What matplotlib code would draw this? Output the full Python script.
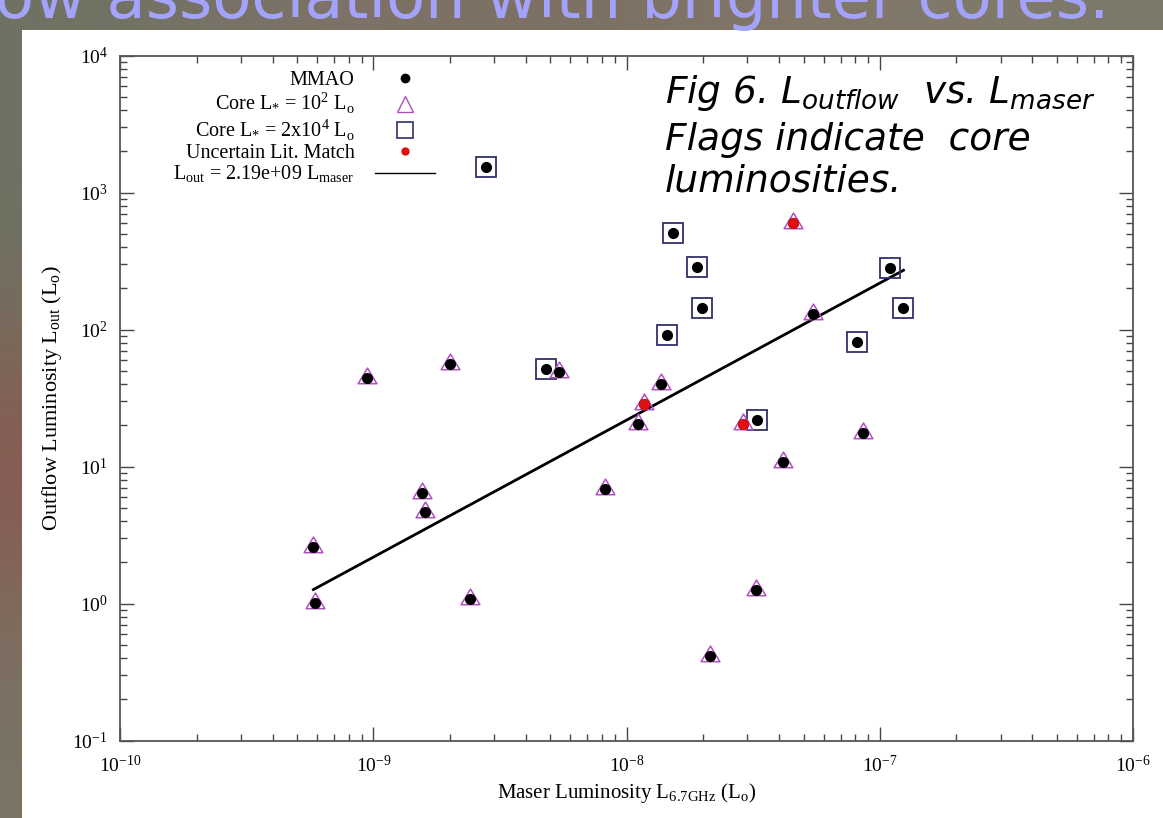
import numpy as np
import matplotlib
matplotlib.use("Agg")
import matplotlib.pyplot as plt
from matplotlib.lines import Line2D
from matplotlib.patches import Rectangle
from matplotlib.path import Path
from matplotlib.colors import to_rgb
from matplotlib.ticker import LogLocator, NullFormatter

plt.rcParams["font.family"] = ["Liberation Serif", "DejaVu Serif"]
plt.rcParams["mathtext.fontset"] = "custom"
plt.rcParams["mathtext.rm"] = "Liberation Serif"
plt.rcParams["mathtext.it"] = "DejaVu Sans:italic"
plt.rcParams["mathtext.bf"] = "Liberation Serif:bold"
plt.rcParams["axes.unicode_minus"] = False

# values
maser = [5.79e-10, 5.85e-10, 9.42e-10, 1.56e-9, 1.60e-9, 2.00e-9, 2.41e-9,
         2.79e-9, 4.81e-9, 5.40e-9, 8.24e-9, 1.11e-8, 1.17e-8, 1.37e-8,
         1.44e-8, 1.53e-8, 1.90e-8, 1.99e-8, 2.14e-8, 2.87e-8, 3.23e-8,
         3.26e-8, 4.16e-8, 4.53e-8, 5.43e-8, 8.14e-8, 8.55e-8, 1.10e-7,
         1.24e-7]
outflow = [2.61, 1.02, 44.2, 6.4, 4.65, 56, 1.08,
           1540, 51.6, 49.3, 6.84, 20.5, 28.5, 40.2,
           91.5, 506, 285, 145, 0.415, 20.5, 1.26,
           22, 10.8, 598, 130, 81, 17.6, 283,
           143]
# core luminosity flag: "low" = 10^2 Lo, "high" = 2x10^4 Lo
core = ["low", "low", "low", "low", "low", "low", "low",
        "high", "high", "low", "low", "low", "low", "low",
        "high", "high", "high", "high", "low", "low", "low",
        "high", "low", "low", "low", "high", "low", "high",
        "high"]
uncertain = [0, 0, 0, 0, 0, 0, 0,
             0, 0, 0, 0, 0, 1, 0,
             0, 0, 0, 0, 0, 1, 0,
             0, 0, 1, 0, 0, 0, 0,
             0]
fit_coeff = 2.19e9

maser = np.array(maser)
outflow = np.array(outflow)
core = np.array(core)
uncertain = np.array(uncertain, dtype=bool)

# triangle with its centroid on the point (dot sits low in the triangle)
tri = Path([(0, 0.667), (-0.6, -0.333), (0.6, -0.333), (0, 0.667)],
           [Path.MOVETO, Path.LINETO, Path.LINETO, Path.CLOSEPOLY])

W, H = 1163, 818
fig = plt.figure(figsize=(W / 100, H / 100), dpi=100)

# slide background
bg = fig.add_axes([0, 0, 1, 1], zorder=-10)
bg_cols = [["#6f7262", "#82736a", "#7b6f62", "#85786a", "#7d7a6b"],
           ["#6d7363", "#6d7363", "#7a7566", "#7a7566", "#7a7566"],
           ["#7a6a5c", "#7a6a5c", "#7a7566", "#7a7566", "#7a7566"],
           ["#8b5750", "#8b5750", "#7a7566", "#7a7566", "#7a7566"],
           ["#7e6c5f", "#7e6c5f", "#7a7566", "#7a7566", "#7a7566"],
           ["#7a7566", "#7a7566", "#7a7566", "#7a7566", "#7a7566"]]
img = np.array([[to_rgb(c) for c in row] for row in bg_cols])
bg.imshow(img, aspect="auto", interpolation="bicubic", extent=[0, 1, 0, 1])
bg.add_patch(Rectangle((22 / W, 0), 1, (H - 30) / H, transform=bg.transAxes,
                       facecolor="white", edgecolor="none", zorder=5))
bg.set_xlim(0, 1)
bg.set_ylim(0, 1)
bg.axis("off")

fig.text(-0.004, 1 - 18 / H, "ow association with brighter cores.",
         color="#a3a3fb", fontsize=46, family="DejaVu Sans", va="baseline")

ax = fig.add_axes([120.3 / W, 1 - 740.7 / H, (1133 - 120.3) / W, (740.7 - 55.7) / H])
ax.set_xscale("log")
ax.set_yscale("log")
ax.set_xlim(1e-10, 1e-6)
ax.set_ylim(1e-1, 1e4)

hi = core == "high"
lo = core == "low"
ax.plot(maser[hi], outflow[hi], ls="none", marker="s", ms=14, mfc="none",
        mec="#30306a", mew=1.3, zorder=3)
ax.plot(maser[lo], outflow[lo], ls="none", marker=tri, ms=15, mfc="none",
        mec="#b050c0", mew=1.1, zorder=3)
ax.plot(maser, outflow, ls="none", marker="o", ms=7, color="black", zorder=4)
ax.plot(maser[uncertain], outflow[uncertain], ls="none", marker="o", ms=7,
        color="#e01010", zorder=5)

xfit = np.array([maser.min(), maser.max()])
ax.plot(xfit, fit_coeff * xfit, color="black", lw=2, zorder=2)

for axis in (ax.xaxis, ax.yaxis):
    axis.set_major_locator(LogLocator(base=10, numticks=20))
    axis.set_minor_locator(LogLocator(base=10, subs=np.arange(2, 10), numticks=20))
    axis.set_minor_formatter(NullFormatter())
ax.tick_params(which="both", direction="in", top=True, right=True,
               color="#444444", width=1, labelsize=14)
ax.tick_params(axis="x", pad=10)
ax.tick_params(axis="y", pad=9)
ax.tick_params(which="major", length=10)
ax.tick_params(which="minor", length=5)
for s in ax.spines.values():
    s.set_color("#555555")
    s.set_linewidth(1.3)

ax.set_xlabel(r"Maser Luminosity L$_{\rm 6.7GHz}$ (L$_{\rm o}$)", fontsize=15, labelpad=4)
ax.set_ylabel(r"Outflow Luminosity L$_{\rm out}$ (L$_{\rm o}$)", fontsize=16, labelpad=6)

handles = [
    Line2D([], [], ls="none", marker="o", ms=6, color="black"),
    Line2D([], [], ls="none", marker="^", ms=11, mfc="none", mec="#b050c0", mew=1),
    Line2D([], [], ls="none", marker="s", ms=12, mfc="none", mec="#30306a", mew=1.2),
    Line2D([], [], ls="none", marker="o", ms=5, color="#e01010"),
    Line2D([], [], color="black", lw=1),
]
labels = ["MMAO",
          r"Core L$_{*}$ = 10$^{2}$ L$_{\rm o}$",
          r"Core L$_{*}$ = 2x10$^{4}$ L$_{\rm o}$",
          "Uncertain Lit. Match",
          r"L$_{\rm out}$ = 2.19e+09 L$_{\rm maser}$"]
fig.legend(handles, labels, loc="upper right", bbox_to_anchor=(435 / W, 1 - 71 / H),
           frameon=False, markerfirst=False, fontsize=14.5, labelspacing=0.05,
           handlelength=3, handletextpad=1.0, borderpad=0, borderaxespad=0)

fig_lines = [r"Fig 6. $L_{outflow}$  vs. $L_{maser}$",
             "Flags indicate  core",
             "luminosities."]
for txt, yb in zip(fig_lines, [103, 150, 192]):
    fig.text(665 / W, 1 - yb / H, txt, fontsize=27, style="italic",
             family="DejaVu Sans", va="baseline")

fig.savefig("out.png", dpi=100)
